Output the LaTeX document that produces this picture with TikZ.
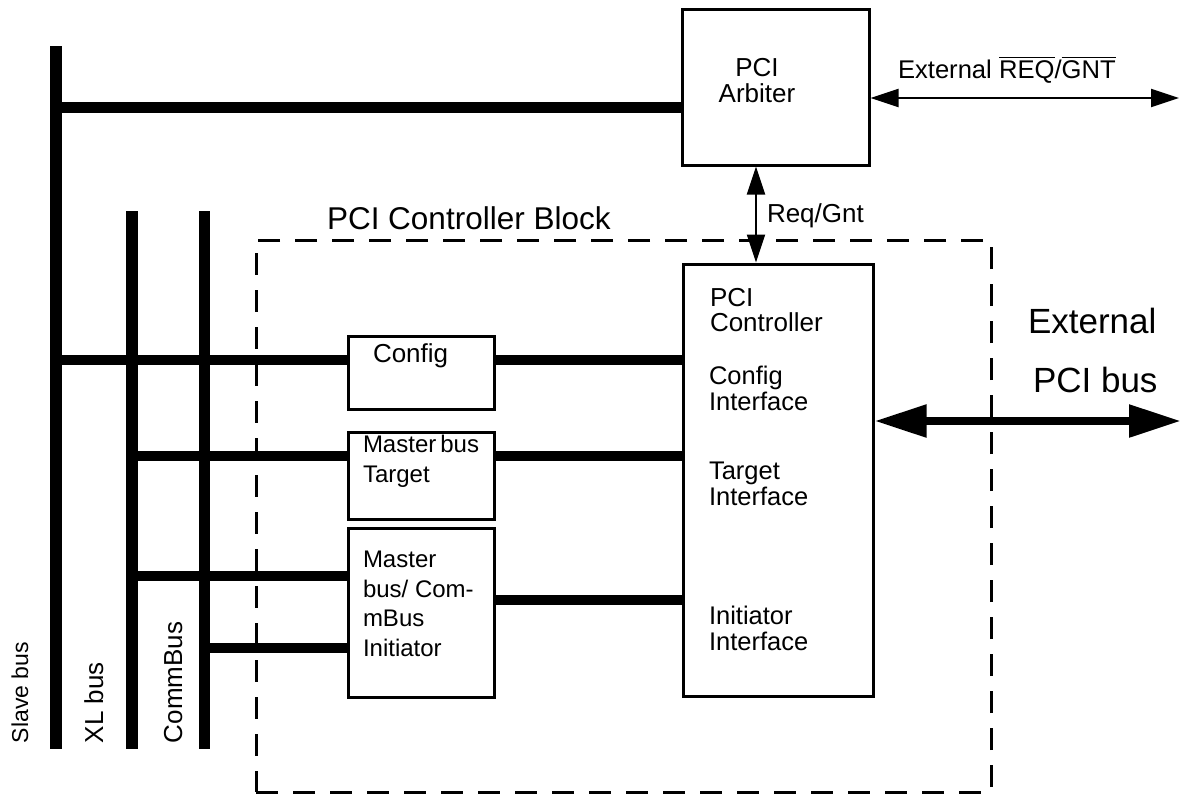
\documentclass[tikz,border=0pt]{standalone}
\usepackage{fontspec}
\setmainfont{Liberation Sans}
\usetikzlibrary{arrows.meta}
\newcommand\ovl[1]{\vbox{\hrule height 1.4pt \kern 2.2pt \hbox{#1}}}
\begin{document}
\begin{tikzpicture}[x=1pt,y=-1pt,
  bus/.style={line width=11.5pt},
  link/.style={line width=10.5pt},
  box/.style={draw, line width=3pt, inner sep=0pt, fill=white},
  blockbox/.style={draw, line width=3pt, inner sep=0pt, dash pattern=on 22pt off 15pt},
  txt/.style={inner sep=0pt, outer sep=0pt},
  thin arrow/.style={line width=2.2pt, {Triangle[length=28pt,width=18pt]}-{Triangle[length=28pt,width=18pt]}},
  thick arrow/.style={line width=8.5pt, {Triangle[length=52pt,width=31pt]}-{Triangle[length=52pt,width=31pt]}},
]
\useasboundingbox (0,0) rectangle (1191,795);

% dashed controller block
\node[blockbox, minimum width=735pt, minimum height=552pt] (blk) at (623.5,516) {};
\node[txt, anchor=base west, font=\fontsize{31.5}{36}\selectfont] (blkL) at (327,229) {PCI Controller Block};

% bus coordinates
\coordinate (sbT) at (56,46);   \coordinate (sbB) at (56,749);
\coordinate (xlT) at (132,211); \coordinate (xlB) at (132,749);
\coordinate (cbT) at (204.5,211); \coordinate (cbB) at (204.5,749);

% boxes
\node[box, minimum width=187pt, minimum height=156pt] (arb) at (775.5,87) {};
\node[box, minimum width=190pt, minimum height=432pt] (ctrl) at (778,480) {};
\node[box, minimum width=146pt, minimum height=73pt] (cfg) at (421,372.5) {};
\node[box, minimum width=146pt, minimum height=87pt] (tgt) at (421,475.5) {};
\node[box, minimum width=146pt, minimum height=169pt] (ini) at (421,612.5) {};

% junction coordinates
\coordinate (jArb) at (50,107.5);
\coordinate (jCfg) at (56,360);
\coordinate (jTgt) at (132,456);
\coordinate (jIni1) at (132,576);
\coordinate (jIni2) at (204.5,648);
\coordinate (jCtrl3) at (490,600);

% buses
\draw[bus] (sbT) -- (sbB);
\draw[bus] (xlT) -- (xlB);
\draw[bus] (cbT) -- (cbB);

% links
\draw[link] (jArb) -- (jArb -| arb.west);
\draw[link] (jCfg) -- (jCfg -| cfg.west);
\draw[link] (jTgt) -- (jTgt -| tgt.west);
\draw[link] (jIni1) -- (jIni1 -| ini.west);
\draw[link] (jIni2) -- (jIni2 -| ini.west);
\draw[link] (jCfg -| cfg.east) -- (jCfg -| ctrl.west);
\draw[link] (jTgt -| tgt.east) -- (jTgt -| ctrl.west);
\draw[link] (jCtrl3 -| ini.east) -- (jCtrl3 -| ctrl.west);

% redraw boxes on top
\node[box, minimum width=187pt, minimum height=156pt] at (arb) {};
\node[box, minimum width=190pt, minimum height=432pt] at (ctrl) {};
\node[box, minimum width=146pt, minimum height=73pt] at (cfg) {};
\node[box, minimum width=146pt, minimum height=87pt] at (tgt) {};
\node[box, minimum width=146pt, minimum height=169pt] at (ini) {};

% arrows
\coordinate (reqx) at (756,0);
\draw[thin arrow] (arb.south -| reqx) -- (ctrl.north -| reqx);
\coordinate (extR) at (1179,98);
\draw[thin arrow] (extR -| arb.east) -- (extR);
\coordinate (busR) at (1181,421);
\draw[thick arrow] (busR -| ctrl.east) -- (busR);

% texts
\node[txt, align=center, anchor=north, font=\fontsize{26}{26}\selectfont] (arbT) at (757,58.5) {PCI\\Arbiter};
\node[txt, anchor=base west, font=\fontsize{25.6}{30}\selectfont] (extT) at (898,78) {External \ovl{REQ}/\ovl{GNT}};
\node[txt, anchor=base west, font=\fontsize{26}{30}\selectfont] (reqT) at (767,222) {Req/Gnt};
\node[txt, anchor=base west, font=\fontsize{35}{40}\selectfont] (pci1) at (1028,333) {External};
\node[txt, anchor=base west, font=\fontsize{35}{40}\selectfont] (pci2) at (1033,392) {PCI bus};

\node[txt, align=left, anchor=north west, font=\fontsize{26}{25}\selectfont] (ctrlT) at (710,288.5) {PCI\\Controller};
\node[txt, align=left, anchor=north west, font=\fontsize{25.5}{26}\selectfont] (cfgI) at (709,366.5) {Config\\Interface};
\node[txt, align=left, anchor=north west, font=\fontsize{25.5}{26}\selectfont] (tgtI) at (709,462) {Target\\Interface};
\node[txt, align=left, anchor=north west, font=\fontsize{25.5}{26}\selectfont] (iniI) at (709,606) {Initiator\\Interface};

\node[txt, anchor=base west, font=\fontsize{26}{30}\selectfont] (cfgT) at (373,362) {Config};
\node[txt, align=left, anchor=north west, font=\fontsize{24}{30}\selectfont] (tgtT) at (363,435.5) {Master\,bus\\Target};
\node[txt, align=left, anchor=north west, font=\fontsize{24}{29.7}\selectfont] (iniT) at (363,551) {Master\\bus/ Com-\\mBus\\Initiator};

\node[txt, rotate=90, anchor=base west, font=\fontsize{23}{27}\selectfont] (sbL) at (28,743) {Slave bus};
\node[txt, rotate=90, anchor=base west, font=\fontsize{26}{30}\selectfont] (xlL) at (103,743) {XL bus};
\node[txt, rotate=90, anchor=base west, font=\fontsize{26}{30}\selectfont] (cbL) at (182,743) {CommBus};
\end{tikzpicture}
\end{document}
